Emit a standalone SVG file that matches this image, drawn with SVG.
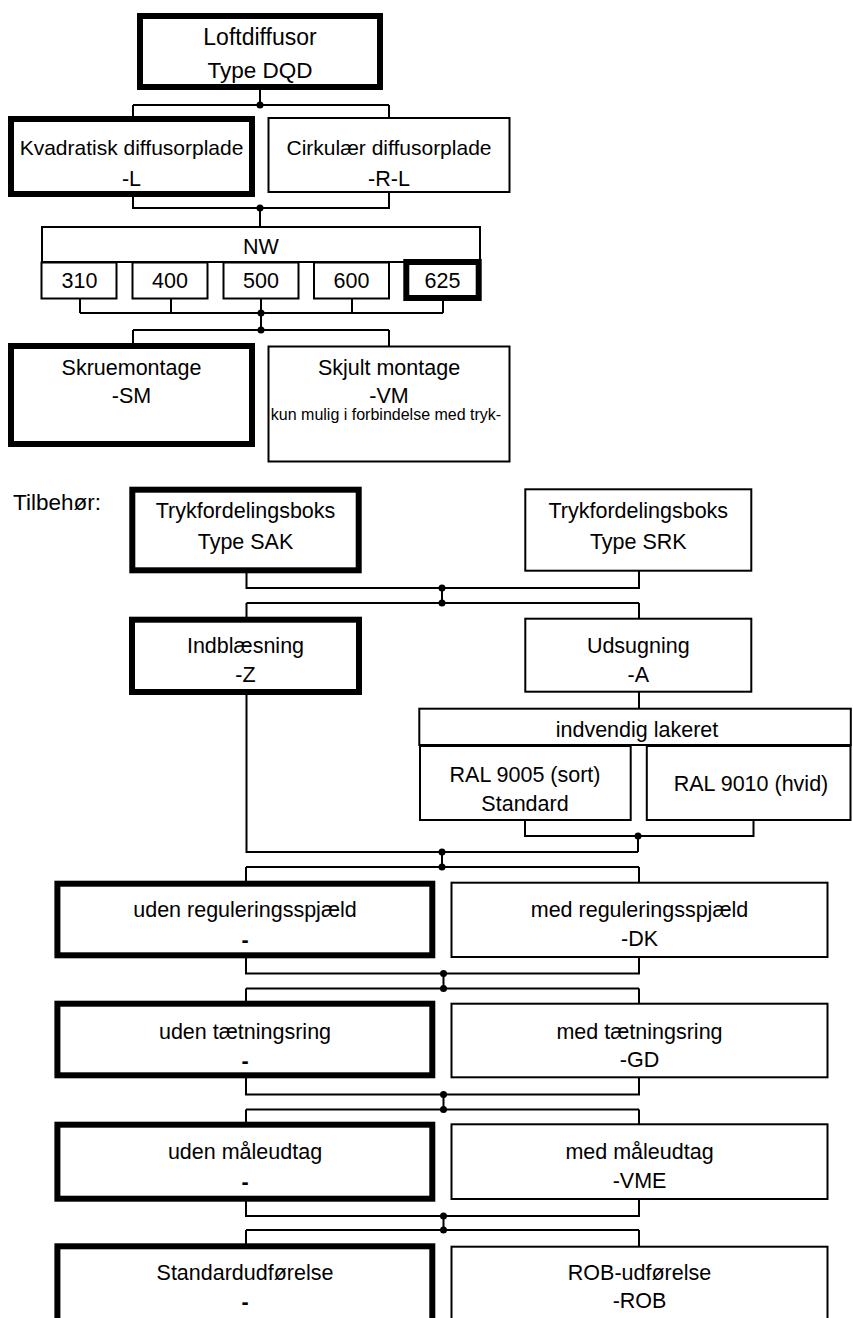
<svg xmlns="http://www.w3.org/2000/svg" width="853" height="1318" viewBox="0 0 853 1318">
<style>
.b{fill:#fff;stroke:#000;stroke-width:2}
.k{fill:#fff;stroke:#000;stroke-width:6}
.t{font-family:"Liberation Sans",Arial,sans-serif;font-size:21.5px;text-anchor:middle;fill:#000}
.s{font-size:16px}
.d{font-weight:bold}
#conn path{fill:none;stroke:#000;stroke-width:2}
#conn circle{fill:#000}
</style>
<rect width="853" height="1318" fill="#fff"/>
<g id="conn">
<path d="M260,87V105M133,105H389M133,105V119M389,105V118"/>
<circle cx="260" cy="105" r="3.5"/>
<path d="M133,194V208H389V192M260,208V227"/>
<circle cx="260" cy="208" r="3.5"/>
<path d="M80,299V313M171,299V313M261,299V313M352,299V313M443,298V313M80,313H443M261,313V330M133,330H389M133,330V346M389,330V346"/>
<circle cx="261" cy="313" r="3.5"/>
<circle cx="261" cy="330" r="3.5"/>
<path d="M246.5,570V588H639V571M442,588V603M246.5,603H639M246.5,603V619M639,603V619"/>
<circle cx="442" cy="588" r="3.5"/>
<circle cx="442" cy="603" r="3.5"/>
<path d="M246.5,692V852H638M639,692V708"/>
<path d="M525,820V836H753.5V820M638,836V852M442,852V867M246,867H639M246,867V884M639,867V883"/>
<circle cx="638" cy="836" r="3.5"/>
<circle cx="442" cy="852" r="3.5"/>
<circle cx="442" cy="867" r="3.5"/>
<path d="M246,955V973.5H639V957M443.5,973.5V988.5M246,988.5H639M246,988.5V1004M639,988.5V1004"/>
<circle cx="443.5" cy="973.5" r="3.5"/>
<circle cx="443.5" cy="988.5" r="3.5"/>
<path d="M246,1075V1094.5H639V1077M443.5,1094.5V1109.5M246,1109.5H639M246,1109.5V1125M639,1109.5V1125"/>
<circle cx="443.5" cy="1094.5" r="3.5"/>
<circle cx="443.5" cy="1109.5" r="3.5"/>
<path d="M246,1198V1216H639V1199M443.5,1216V1230M246,1230H639M246,1230V1247M639,1230V1247"/>
<circle cx="443.5" cy="1216" r="3.5"/>
<circle cx="443.5" cy="1230" r="3.5"/>
</g>
<g id="n-loft"><rect class="k" x="140" y="16" width="240" height="71"/>
<text class="t" x="260" y="45" style="font-size:23px">Loftdiffusor</text>
<text class="t" x="260" y="78" style="font-size:22.5px">Type DQD</text></g>
<g id="n-kvad"><rect class="k" x="11" y="119" width="241" height="75"/>
<text class="t" x="131.5" y="155" style="font-size:21px">Kvadratisk diffusorplade</text>
<text class="t" x="131.5" y="186">-L</text></g>
<g id="n-cirk"><rect class="b" x="268.5" y="118" width="241" height="74"/>
<text class="t" x="389" y="155" style="font-size:21px">Cirkulær diffusorplade</text>
<text class="t" x="389" y="186">-R-L</text></g>
<g id="n-nw"><rect class="b" x="42" y="227" width="438" height="35"/>
<text class="t" x="261" y="254">NW</text></g>
<g id="n-310"><rect class="b" x="41.5" y="262.5" width="75" height="36"/><text class="t" x="79.5" y="288">310</text></g>
<g id="n-400"><rect class="b" x="132.5" y="262.5" width="75" height="36"/><text class="t" x="170" y="288">400</text></g>
<g id="n-500"><rect class="b" x="223.5" y="262.5" width="75" height="36"/><text class="t" x="261" y="288">500</text></g>
<g id="n-600"><rect class="b" x="314" y="262.5" width="75" height="36"/><text class="t" x="351.5" y="288">600</text></g>
<g id="n-625"><rect class="k" x="406.3" y="262" width="72.4" height="36"/><text class="t" x="442.5" y="288">625</text></g>
<g id="n-sm"><rect class="k" x="11" y="346" width="241" height="98"/>
<text class="t" x="131.5" y="375">Skruemontage</text>
<text class="t" x="131.5" y="403">-SM</text></g>
<g id="n-vm"><rect class="b" x="268.5" y="346.5" width="241" height="115"/>
<text class="t" x="389" y="375">Skjult montage</text>
<text class="t" x="389" y="403">-VM</text>
<text class="t s" x="386" y="420">kun mulig i forbindelse med tryk-</text></g>
<text id="lbl-tilbehor" class="t" x="13" y="510" style="text-anchor:start;font-size:22.5px">Tilbehør:</text>
<g id="n-sak"><rect class="k" x="132.3" y="489.7" width="226.4" height="80.6"/>
<text class="t" x="245.5" y="518">Trykfordelingsboks</text>
<text class="t" x="245.5" y="549">Type SAK</text></g>
<g id="n-srk"><rect class="b" x="525.3" y="489.3" width="226" height="81.4"/>
<text class="t" x="638.3" y="518">Trykfordelingsboks</text>
<text class="t" x="638.3" y="549">Type SRK</text></g>
<g id="n-z"><rect class="k" x="132" y="619.7" width="227" height="72.3"/>
<text class="t" x="245.5" y="652.5">Indblæsning</text>
<text class="t" x="245.5" y="682">-Z</text></g>
<g id="n-a"><rect class="b" x="525.3" y="618.7" width="226" height="73"/>
<text class="t" x="638.3" y="652.5">Udsugning</text>
<text class="t" x="638.3" y="682">-A</text></g>
<g id="n-lak"><rect class="b" x="419.3" y="708.7" width="431.5" height="36.3"/>
<text class="t" x="637" y="737">indvendig lakeret</text></g>
<g id="n-9005"><rect class="b" x="420" y="746" width="210.7" height="74"/>
<text class="t" x="525" y="782">RAL 9005 (sort)</text>
<text class="t" x="525" y="811">Standard</text></g>
<g id="n-9010"><rect class="b" x="646.8" y="746" width="203.7" height="74"/>
<text class="t" x="751" y="791">RAL 9010 (hvid)</text></g>
<g id="n-udenreg"><rect class="k" x="57.4" y="883.7" width="374.9" height="71.6"/>
<text class="t" x="245" y="917">uden reguleringsspjæld</text>
<text class="t d" x="245" y="947">-</text></g>
<g id="n-medreg"><rect class="b" x="451.5" y="882.7" width="376" height="74.3"/>
<text class="t" x="639.5" y="917">med reguleringsspjæld</text>
<text class="t" x="639.5" y="946">-DK</text></g>
<g id="n-udentaet"><rect class="k" x="57.4" y="1003.7" width="374.9" height="71.6"/>
<text class="t" x="245" y="1038.5">uden tætningsring</text>
<text class="t d" x="245" y="1068">-</text></g>
<g id="n-medtaet"><rect class="b" x="451.5" y="1003.7" width="376" height="73.6"/>
<text class="t" x="639.5" y="1038.5">med tætningsring</text>
<text class="t" x="639.5" y="1067">-GD</text></g>
<g id="n-udenmaal"><rect class="k" x="57.4" y="1124.7" width="374.9" height="74"/>
<text class="t" x="245" y="1159">uden måleudtag</text>
<text class="t d" x="245" y="1188.5">-</text></g>
<g id="n-medmaal"><rect class="b" x="451.5" y="1124.3" width="376" height="74.7"/>
<text class="t" x="639.5" y="1159">med måleudtag</text>
<text class="t" x="639.5" y="1188">-VME</text></g>
<g id="n-std"><rect class="k" x="57.4" y="1246.3" width="374.9" height="100"/>
<text class="t" x="245" y="1280">Standardudførelse</text>
<text class="t d" x="245" y="1309">-</text></g>
<g id="n-rob"><rect class="b" x="451.5" y="1246.7" width="376" height="100"/>
<text class="t" x="639.5" y="1280">ROB-udførelse</text>
<text class="t" x="639.5" y="1308">-ROB</text></g>
</svg>
